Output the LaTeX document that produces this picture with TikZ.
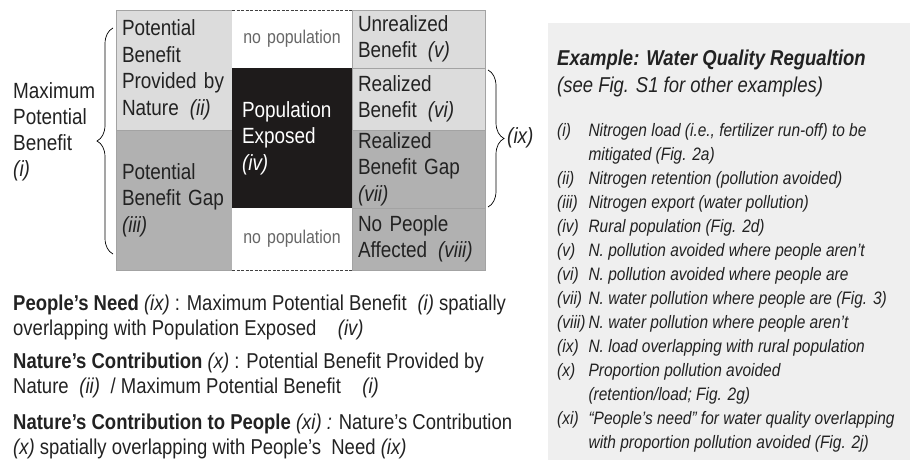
\documentclass[tikz,border=0pt]{standalone}
\usepackage{fontspec}
\setmainfont{Liberation Sans}[FakeStretch=0.86]
\usetikzlibrary{positioning,decorations.pathreplacing}

\definecolor{lightcell}{HTML}{DCDCDC}
\definecolor{darkcell}{HTML}{B1B1B1}
\definecolor{exposedcell}{HTML}{1E1B1B}
\definecolor{cellline}{HTML}{A3A3A3}
\definecolor{nopoptext}{HTML}{666666}
\definecolor{panelgrey}{HTML}{EFEFEF}
\definecolor{inktext}{HTML}{222222}

\begin{document}
\begin{tikzpicture}[x=1pt,y=-1pt,
    % Define the style for the cells of the grid
    cell/.style={rectangle, draw=cellline, line width=0.8pt, outer sep=0pt,
        anchor=north west, inner xsep=6pt, inner ysep=0pt, align=left,
        text=inktext, font=\fontsize{22}{26.5}\selectfont},
    light cell/.style={cell, fill=lightcell},
    dark cell/.style={cell, fill=darkcell},
    exposed cell/.style={cell, fill=exposedcell, draw=none, text=white, inner xsep=10pt},
    blank cell/.style={cell, draw=none, fill=white, align=center, text=nopoptext,
        font=\fontsize{18.5}{22}\selectfont},
    % Define the style for the braces and the text round the grid
    brace/.style={decorate, decoration={brace, amplitude=16pt}, line width=0.7pt},
    side label/.style={anchor=west, align=left, inner sep=0pt, text=inktext,
        font=\fontsize{22}{26}\selectfont},
    def text/.style={anchor=north west, align=left, inner sep=0pt, text=inktext,
        font=\fontsize{21.5}{25}\selectfont},
    dashed line/.style={draw=black!75, dash pattern=on 3pt off 1.5pt, line width=0.7pt}
]

\useasboundingbox (0,0) rectangle (910,460);

% Column widths of the grid
\def\leftw{116pt}   % left column
\def\midw{120pt}    % middle column
\def\rightw{133pt}  % right column

% Left column: what nature can provide
\node[light cell, minimum width=\leftw, minimum height=120pt, text width=104pt]
    (nature) at (116,10) {Potential\\Benefit\\Provided by\\Nature\enspace\textit{(ii)}};
\node[dark cell, minimum width=\leftw, minimum height=140pt, text width=104pt,
    below=0pt of nature.south west, anchor=north west]
    (pbgap) {Potential\\Benefit Gap\\\textit{(iii)}};

% Middle column: where the people are
\node[blank cell, minimum width=\midw, minimum height=58pt, text width=100pt,
    right=0pt of nature.north east, anchor=north west] (nopop-top) {no population};
\node[exposed cell, minimum width=\midw, minimum height=140pt, text width=100pt,
    below=0pt of nopop-top.south west, anchor=north west]
    (exposed) {Population\\Exposed\\\textit{(iv)}};
\node[blank cell, minimum width=\midw, minimum height=62pt, text width=100pt,
    below=0pt of exposed.south west, anchor=north west] (nopop-bot) {no population};

% Right column: benefits that are (not) realized
\node[light cell, minimum width=\rightw, minimum height=58pt, text width=121pt,
    right=0pt of nopop-top.north east, anchor=north west]
    (unreal) {Unrealized\\Benefit\enspace\textit{(v)}};
\node[light cell, minimum width=\rightw, minimum height=62pt, text width=121pt,
    below=0pt of unreal.south west, anchor=north west]
    (real) {Realized\\Benefit\enspace\textit{(vi)}};
\node[dark cell, minimum width=\rightw, minimum height=78pt, text width=121pt,
    below=0pt of real.south west, anchor=north west]
    (realgap) {Realized\\Benefit Gap\\\textit{(vii)}};
\node[dark cell, minimum width=\rightw, minimum height=62pt, text width=121pt,
    below=0pt of realgap.south west, anchor=north west]
    (noaff) {No People\\Affected\enspace\textit{(viii)}};

% Dashed edges of the empty cells
\draw[dashed line] (nopop-top.north west) -- (nopop-top.north east);
\draw[dashed line] (nopop-bot.south west) -- (nopop-bot.south east);

% Braces with their labels
\coordinate (maxben-bot) at (113,254);
\coordinate (maxben-top) at (113,28);
\draw[brace] (maxben-bot) -- (maxben-top);
\node[side label] (maxben) at (13,132) {Maximum\\Potential\\Benefit\\\textit{(i)}};

\coordinate (need-top) at (488,70);
\coordinate (need-bot) at (488,207);
\draw[brace] (need-top) -- (need-bot);
\node[side label] (need) at (507,138) {\textit{(ix)}};

% Definitions below the grid
\node[def text] (people-need) at (13,295)
    {\textbf{People's Need} \textit{(ix)} : Maximum Potential Benefit\enspace\textit{(i)} spatially\\
     overlapping with Population Exposed\quad\textit{(iv)}};
\node[def text, below=12pt of people-need.south west, anchor=north west] (nature-contrib)
    {\textbf{Nature's Contribution} \textit{(x)} : Potential Benefit Provided by\\
     Nature\enspace\textit{(ii)}\enspace/ Maximum Potential Benefit\quad\textit{(i)}};
\node[def text, below=16pt of nature-contrib.south west, anchor=north west] (ncp)
    {\textbf{Nature's Contribution to People} \textit{(xi) :} Nature's Contribution\\
     \textit{(x)} spatially overlapping with People's\ \ Need \textit{(ix)}};

% Example panel on the right
\node[rectangle, fill=panelgrey, anchor=north west, inner sep=0pt,
    minimum width=362pt, minimum height=437pt] (panel) at (548,23) {};
\node[anchor=north west, align=left, inner sep=0pt, text=inktext,
    font=\fontsize{21.5}{27}\selectfont\itshape] (example-title) at (557,50)
    {\textbf{Example: Water Quality Regualtion}\\(see Fig. S1 for other examples)};
\node[anchor=north west, inner sep=0pt, text=inktext,
    font=\fontsize{18}{24}\selectfont\itshape] (example-list) at (557,119) {%
    \begin{tabular}{@{}l@{\hspace{3pt}}l@{}}
    (i)    & Nitrogen load (i.e., fertilizer run-off) to be\\
           & mitigated (Fig. 2a)\\
    (ii)   & Nitrogen retention (pollution avoided)\\
    (iii)  & Nitrogen export (water pollution)\\
    (iv)   & Rural population (Fig. 2d)\\
    (v)    & N. pollution avoided where people aren't\\
    (vi)   & N. pollution avoided where people are\\
    (vii)  & N. water pollution where people are (Fig. 3)\\
    (viii) & N. water pollution where people aren't\\
    (ix)   & N. load overlapping with rural population\\
    (x)    & Proportion pollution avoided\\
           & (retention/load; Fig. 2g)\\
    (xi)   & ``People's need'' for water quality overlapping\\
           & with proportion pollution avoided (Fig. 2j)
    \end{tabular}};

\end{tikzpicture}
\end{document}
